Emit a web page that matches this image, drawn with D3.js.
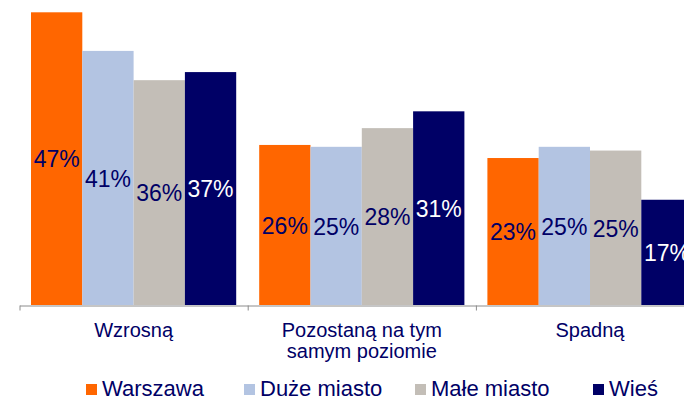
<!DOCTYPE html>
<html>
<head>
<meta charset="utf-8">
<script src="https://cdn.jsdelivr.net/npm/d3@7"></script>
<style>
  body { margin: 0; background: #fff; }
  text { font-family: "Liberation Sans", Arial, sans-serif; }
</style>
</head>
<body>
<div id="my_dataviz"></div>
<script>
// categories and series
var categories = ["Wzrosną", "Pozostaną na tym\nsamym poziomie", "Spadną"];
var seriesNames = ["Warszawa", "Duże miasto", "Małe miasto", "Wieś"];

var warszawa = [47, 25.7, 23.6];
var duzeMiasto = [40.8, 25.4, 25.4];
var maleMiasto = [36.1, 28.4, 24.8];
var wies = [37.4, 31.1, 16.9];

var warszawaLabels = ["47%", "26%", "23%"];
var duzeMiastoLabels = ["41%", "25%", "25%"];
var maleMiastoLabels = ["36%", "28%", "25%"];
var wiesLabels = ["37%", "31%", "17%"];

var colors = ["#ff6600", "#b3c4e2", "#c3beb7", "#000066"];
var textColors = ["#000066", "#000066", "#000066", "#ffffff"];

var seriesValues = [warszawa, duzeMiasto, maleMiasto, wies];
var seriesLabels = [warszawaLabels, duzeMiastoLabels, maleMiastoLabels, wiesLabels];

// dimensions
var width = 684, height = 400;
var axisY = 305;
var plotLeft = 19.5, groupWidth = 228.2;

var svg = d3.select("#my_dataviz")
            .append("svg")
              .attr("width", width)
              .attr("height", height);

// scales
var x0 = d3.scaleBand()
  .domain(categories)
  .range([plotLeft, plotLeft + groupWidth * categories.length])
  .padding(0);

var x1 = d3.scaleBand()
  .domain(seriesNames)
  .range([11.5, groupWidth - 11.5])
  .padding(0);

var y = d3.scaleLinear()
  .domain([0, 47])
  .range([axisY, 12.3]);

// flatten to one record per bar
var rows = [];
categories.forEach(function(c, i) {
  seriesNames.forEach(function(s, j) {
    rows.push({cat: c, series: s, idx: j, value: seriesValues[j][i], label: seriesLabels[j][i]});
  });
});

// bars
svg.append("g")
   .selectAll("rect")
   .data(rows)
   .enter()
   .append("rect")
     .attr("x", function(d) { return x0(d.cat) + x1(d.series); })
     .attr("y", function(d) { return y(d.value); })
     .attr("width", x1.bandwidth())
     .attr("height", function(d) { return y(0) - y(d.value); })
     .attr("fill", function(d) { return colors[d.idx]; });

// value labels, centred in each bar
svg.append("g")
   .selectAll("text")
   .data(rows)
   .enter()
   .append("text")
     .attr("x", function(d) { return x0(d.cat) + x1(d.series) + x1.bandwidth() / 2; })
     .attr("y", function(d) { return (y(d.value) + y(0)) / 2; })
     .attr("dy", "0.38em")
     .attr("text-anchor", "middle")
     .style("font-size", "23px")
     .attr("fill", function(d) { return textColors[d.idx]; })
     .text(function(d) { return d.label; });

// axis with ticks at the group boundaries
var xb = d3.scaleLinear()
  .domain([0, categories.length])
  .range(x0.range());

svg.append("g")
   .attr("transform", "translate(0," + (axisY + 0.5) + ")")
   .call(d3.axisBottom(xb).ticks(categories.length).tickSizeInner(5).tickSizeOuter(0).tickFormat(""))
   .call(function(g) {
     g.selectAll("path, line").attr("stroke", "#8c8c8c");
   });

// category labels
var catLabels = svg.append("g")
   .selectAll("text")
   .data(categories)
   .enter()
   .append("text")
     .attr("x", function(d) { return x0(d) + x0.bandwidth() / 2; })
     .attr("y", 336.5)
     .attr("text-anchor", "middle")
     .style("font-size", "20px")
     .attr("fill", "#000066");

catLabels.each(function(d) {
  var t = d3.select(this);
  d.split("\n").forEach(function(line, i) {
    t.append("tspan")
     .attr("x", t.attr("x"))
     .attr("dy", i === 0 ? 0 : 21.5)
     .text(line);
  });
});

// legend
var legendX = [86, 244, 415, 593];
var legend = svg.append("g")
   .selectAll("g")
   .data(seriesNames)
   .enter()
   .append("g")
     .attr("transform", function(d, i) { return "translate(" + legendX[i] + ",0)"; });

legend.append("rect")
  .attr("x", 0)
  .attr("y", 384)
  .attr("width", 11)
  .attr("height", 11)
  .attr("fill", function(d, i) { return colors[i]; });

legend.append("text")
  .attr("x", 16)
  .attr("y", 395.5)
  .style("font-size", "22px")
  .attr("fill", "#000066")
  .text(function(d) { return d; });
</script>
</body>
</html>
